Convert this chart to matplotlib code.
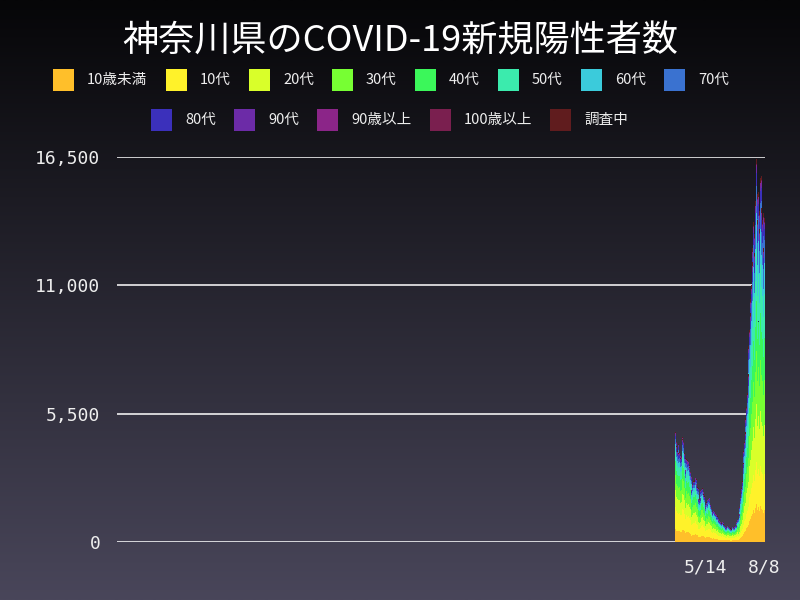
import numpy as np
import pandas as pd
import matplotlib
matplotlib.use("Agg")
import matplotlib.pyplot as plt
import matplotlib.dates as mdates
from matplotlib.patches import Rectangle

# age groups and their colours
age_labels = ['10歳未満', '10代', '20代', '30代', '40代', '50代', '60代', '70代',
              '80代', '90代', '90歳以上', '100歳以上', '調査中']
age_colors = ['#ffbf2a', '#fff22a', '#d9ff2a', '#77ff33', '#3bf75a', '#3bebad',
              '#3bcbdb', '#3a72d0', '#3b30bb', '#6c2ba7', '#8b2588', '#7a1f4f', '#601c1e']

# daily new cases, 2022-04-01 .. 2022-08-08
cases_apr = [4700, 4300, 4100, 3900, 4200, 3800, 3850, 3700, 3600, 3650,
             4500, 4400, 4300, 3800, 3100, 3600, 3550, 3500, 3400, 3450,
             3300, 3200, 3000, 2800, 2250, 2450, 2600, 2650, 2600, 2750]
cases_may = [2700, 2500, 2350, 2300, 1850, 1800, 1900, 2200, 2250, 2300,
             2150, 2050, 1950, 1600, 1500, 1700, 1650, 1800, 1850, 1900,
             1800, 1600, 1450, 1250, 1300, 1350, 1300, 1250, 1200, 1150, 1050]
cases_jun = [1100, 1000, 950, 900, 850, 800, 780, 850, 820, 750,
             700, 650, 620, 600, 700, 680, 650, 600, 580, 560,
             540, 650, 640, 600, 620, 640, 700, 720, 850, 950]
cases_jul = [1000, 1200, 1500, 1900, 2200, 2300, 2600, 3400, 3900, 4300,
             4700, 5300, 5800, 6400, 7200, 8400, 9100, 9800, 10400, 11000,
             12000, 12600, 13700, 12400, 13200, 14600, 16400, 14900, 13800, 15000, 14200]
cases_aug = [13400, 15600, 15700, 14300, 13800, 14100, 12600, 13900]

# approximate age shares per month (read from band heights)
share_apr = [0.12, 0.20, 0.15, 0.14, 0.13, 0.09, 0.06, 0.05, 0.03, 0.015, 0.006, 0.002, 0.007]
share_may = [0.12, 0.19, 0.15, 0.14, 0.13, 0.09, 0.06, 0.052, 0.033, 0.017, 0.007, 0.002, 0.009]
share_jun = [0.11, 0.18, 0.16, 0.13, 0.12, 0.09, 0.065, 0.06, 0.04, 0.022, 0.01, 0.003, 0.01]
share_jul = [0.10, 0.11, 0.15, 0.14, 0.13, 0.135, 0.095, 0.07, 0.035, 0.014, 0.006, 0.002, 0.013]
share_aug = [0.10, 0.11, 0.15, 0.14, 0.13, 0.135, 0.095, 0.07, 0.035, 0.014, 0.006, 0.002, 0.013]

axis_start = '2020-01-16'
data_start = '2022-04-01'
tick_dates = ['2022-05-14', '2022-08-08']
tick_labels = ['5/14', '8/8']
y_ticks = [0, 5500, 11000, 16500]

monthly = [(cases_apr, share_apr), (cases_may, share_may), (cases_jun, share_jun),
           (cases_jul, share_jul), (cases_aug, share_aug)]
totals = np.concatenate([np.array(c, dtype=float) for c, s in monthly])
shares = np.concatenate([np.tile(s, (len(c), 1)) for c, s in monthly])
counts = np.round(totals[:, None] * shares)

dates = pd.date_range(data_start, periods=len(totals))
xd = mdates.date2num(dates)

fig = plt.figure(figsize=(8, 6), dpi=100)

# background gradient
bg = fig.add_axes([0, 0, 1, 1], zorder=-10)
top = np.array([6, 6, 8]) / 255
bottom = np.array([73, 70, 90]) / 255
t = np.linspace(0, 1, 300)[:, None]
grad = (top + (bottom - top) * t)[:, None, :]
bg.imshow(grad, aspect='auto', extent=[0, 1, 0, 1], interpolation='bilinear')
bg.axis('off')

ax = fig.add_axes([117 / 800, 58 / 600, 648 / 800, 385 / 600])
ax.set_facecolor('none')

# bars slightly wider than a day so neighbouring days share pixel columns
base = np.zeros(len(totals))
for i, (lab, col) in enumerate(zip(age_labels, age_colors)):
    ax.bar(xd, counts[:, i], bottom=base, width=1.5, color=col,
           linewidth=0, antialiased=False, label=lab)
    base += counts[:, i]

ax.set_xlim(mdates.date2num(pd.Timestamp(axis_start)) - 0.5,
            mdates.date2num(pd.Timestamp(tick_dates[-1])) + 0.5)
ax.set_ylim(0, 16500)
ax.set_yticks(y_ticks)
ax.set_yticklabels([f'{v:,}' for v in y_ticks])
ax.set_xticks(mdates.date2num(pd.to_datetime(tick_dates)))
ax.set_xticklabels(tick_labels)
ax.tick_params(axis='both', length=0, colors='#eeeeee', labelsize=13)
ax.tick_params(axis='y', pad=12)
ax.tick_params(axis='x', pad=12)
for lbl in ax.get_xticklabels() + ax.get_yticklabels():
    lbl.set_family(['DejaVu Sans Mono', 'Noto Sans CJK JP'])
ax.grid(axis='y', color='white', linewidth=1.1)
ax.set_axisbelow(True)
for s in ax.spines.values():
    s.set_visible(False)

fig.text(0.5, 1 - 41 / 600, '神奈川県のCOVID-19新規陽性者数', ha='center', va='center',
         fontsize=26, color='white', family=['Noto Sans CJK JP', 'DejaVu Sans'])

# legend drawn by hand in two rows
row1_x = [53, 166, 249, 332, 415, 498, 581, 664]
row2_x = [151, 234, 317, 430, 550]
positions = [(x, 80) for x in row1_x] + [(x, 120) for x in row2_x]
for (px, py), lab, col in zip(positions, age_labels, age_colors):
    fig.add_artist(Rectangle((px / 800, 1 - (py + 10.5) / 600), 21 / 800, 21 / 600,
                             transform=fig.transFigure, color=col, linewidth=0))
    fig.text((px + 34) / 800, 1 - py / 600, lab, ha='left', va='center',
             fontsize=10.5, color='#eeeeee', family=['Noto Sans CJK JP', 'DejaVu Sans'])

fig.savefig('out.png', dpi=100)
